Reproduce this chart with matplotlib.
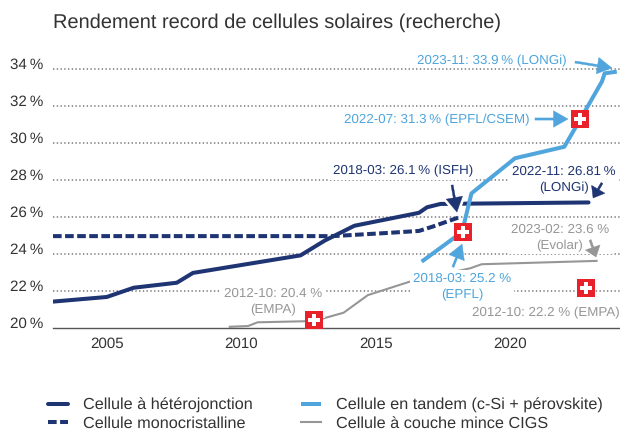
import matplotlib
matplotlib.use("Agg")
import matplotlib.pyplot as plt
from matplotlib.transforms import ScaledTranslation

plt.rcParams['font.family'] = ['Liberation Sans', 'DejaVu Sans']
plt.rcParams['text.hinting'] = 'none'

NAVY, BLUE, GRAY, RED = '#1f3573', '#4fa5dc', '#969696', '#e8212b'
TXT = '#333333'

het_x = [2003, 2005.0, 2006.0, 2007.6, 2008.2, 2012.2, 2013.1, 2014.2, 2016.6, 2016.9, 2017.4, 2022.9]
het_y = [21.4, 21.65, 22.15, 22.42, 22.95, 23.9, 24.7, 25.5, 26.2, 26.5, 26.68, 26.76]
mono_x = [2003, 2013.4, 2015.3, 2016.6, 2017.1, 2018.1]
mono_y = [24.94, 24.94, 25.1, 25.22, 25.45, 25.96]
tan_x = [2016.7, 2018.2, 2018.55, 2020.17, 2022.0, 2022.6, 2023.4, 2023.5, 2023.95]
tan_y = [23.56, 25.16, 27.25, 29.15, 29.77, 31.27, 33.3, 33.74, 33.83]
cigs_x = [2009.57, 2010.25, 2010.6, 2012.7, 2013.8, 2014.7, 2016.26, 2018.5, 2018.93, 2023.2]
cigs_y = [20.04, 20.08, 20.28, 20.35, 20.8, 21.75, 22.48, 23.2, 23.42, 23.6]
swiss_x = [2012.7, 2018.23, 2022.6, 2022.8]
swiss_y = [20.38, 25.17, 31.27, 22.13]
y_ticks = [20, 22, 24, 26, 28, 30, 32, 34]
x_ticks = [2005, 2010, 2015, 2020]

fig = plt.figure(figsize=(6.2, 4.3), dpi=100)
ax = fig.add_axes([53/620, 1-327.5/430, 567/620, (327.5-60)/430])
ax.set_xlim(2003, 2024.07)
ax.set_ylim(20, 34.46)

for s in ['top', 'left', 'right']:
    ax.spines[s].set_visible(False)
ax.spines['bottom'].set_color('#555555')
ax.spines['bottom'].set_linewidth(1.0)
ax.set_yticks(y_ticks, [f'{v}\u2009%' for v in y_ticks])
ax.set_xticks(x_ticks, [str(v) for v in x_ticks])
ax.tick_params(length=0, labelsize=10.9, labelcolor=TXT)
ax.tick_params(axis='y', pad=7)
ax.tick_params(axis='x', pad=7)
lift = ScaledTranslation(0, 5.5/100, fig.dpi_scale_trans)
for t in ax.get_yticklabels():
    t.set_transform(t.get_transform() + lift)
for v in y_ticks[1:]:
    ax.axhline(v, color='#777777', lw=1.1, ls=(0, (0.9, 1.55)), zorder=1, clip_on=False)

fig.text(53/620, 1-23/430, 'Rendement record de cellules solaires (recherche)',
         fontsize=14.45, color=TXT, va='center', ha='left')

ax.plot(cigs_x, cigs_y, color=GRAY, lw=1.5, zorder=2, label='Cellule à couche mince CIGS')
ax.plot(het_x, het_y, color=NAVY, lw=2.9, zorder=4, label='Cellule à hétérojonction',
        solid_capstyle='round', solid_joinstyle='round')
ax.plot(mono_x, mono_y, color=NAVY, lw=2.9, ls=(0, (2.15, 0.85)), zorder=4,
        label='Cellule monocristalline')


def label(text, x, y, color, box=True):
    bbox = dict(facecolor='white', edgecolor='none', pad=2) if box else None
    ax.text(x, y, text, color=color, fontsize=9.6, ha='center', va='center', zorder=3,
            linespacing=1.45, bbox=bbox)


def arrow(x0, y0, x1, y1, color, halo=False, head=0.75, width=0.85):
    style = f'simple,head_length={head},head_width={width},tail_width=0.11'
    if halo:
        ax.annotate('', xy=(x1, y1), xytext=(x0, y0), zorder=4.5, annotation_clip=False,
                    arrowprops=dict(arrowstyle=style, fc='white', ec='white', lw=4, shrinkA=0,
                                    shrinkB=0, mutation_scale=14))
    ax.annotate('', xy=(x1, y1), xytext=(x0, y0), zorder=5, annotation_clip=False,
                arrowprops=dict(arrowstyle=style, fc=color, ec=color, lw=0.3, shrinkA=0,
                                shrinkB=0, mutation_scale=14))


label('2023-11: 33.9\u2009% (LONGi)', 2019.31, 34.4, BLUE, box=False)
label('2022-07: 31.3\u2009% (EPFL/CSEM)', 2017.27, 31.22, BLUE)
label('2018-03: 26.1\u2009% (ISFH)', 2016.0, 28.46, NAVY)
label('2022-11: 26.81\u2009%\n(LONGi)', 2021.99, 28.0, NAVY)
label('2023-02: 23.6 %\n(Evolar)', 2021.84, 24.87, GRAY)
label('2018-03: 25.2 %\n(EPFL)', 2018.2, 22.19, BLUE)
label('2012-10: 20.4 %\n(EMPA)', 2011.17, 21.41, GRAY)
label('2012-10: 22.2 % (EMPA)', 2021.32, 20.79, GRAY)

arrow(2022.4, 34.35, 2023.77, 34.03, BLUE)
arrow(2020.91, 31.27, 2022.14, 31.27, BLUE)
arrow(2017.83, 27.7, 2018.01, 26.24, NAVY, halo=True)
arrow(2023.4, 27.81, 2023.07, 27.0, NAVY, head=0.52, width=0.8)
arrow(2022.96, 24.73, 2023.18, 23.81, GRAY, head=0.52, width=0.8)
arrow(2017.86, 23.27, 2018.2, 24.51, BLUE)

ax.plot(tan_x, tan_y, color=BLUE, lw=2.9, zorder=6, label='Cellule en tandem (c-Si + pérovskite)',
        solid_capstyle='butt', solid_joinstyle='round')

ax.plot(swiss_x, swiss_y, ls='none', marker='s', ms=12.4, color=RED, mew=0, zorder=7, clip_on=False)
ax.plot(swiss_x, swiss_y, ls='none', marker='P', ms=8, color='white', mew=0, zorder=8, clip_on=False)

h, l = ax.get_legend_handles_labels()
order = ['Cellule à hétérojonction', 'Cellule monocristalline',
         'Cellule en tandem (c-Si + pérovskite)', 'Cellule à couche mince CIGS']
hs = [h[l.index(n)] for n in order]
fig.legend(hs, order, ncol=2, loc='upper left', bbox_to_anchor=(48/620, 1-398/430),
           frameon=False, fontsize=11.68, labelcolor=TXT, handlelength=1.23, handletextpad=0.92,
           columnspacing=3.0, labelspacing=0.21, borderpad=0, borderaxespad=0)

fig.savefig('out.png', dpi=100)
